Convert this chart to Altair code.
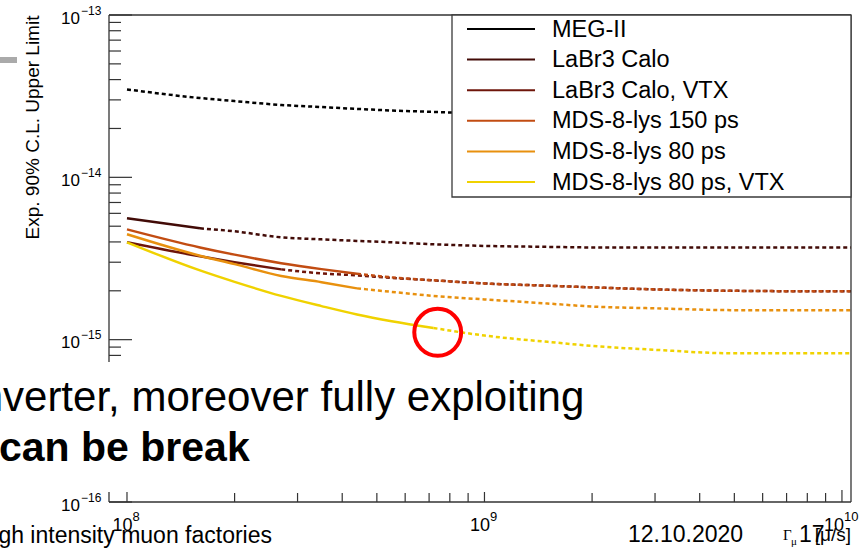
import altair as alt
import pandas as pd

SANS = "Liberation Sans"
SERIF = "Liberation Serif"
AX = "#333333"

# Muon stopping rate [mu/s] at which the sensitivities are sampled
rate = [1e8, 1.6e8, 2e8, 2.7e8, 3.5e8, 4.4e8, 5.5e8, 7.2e8,
        1e9, 1.5e9, 2e9, 3e9, 5e9, 7e9, 1.06e10]

# Expected 90% C.L. upper limits for each detector configuration
meg2 = [3.48e-14, 3.08e-14, 2.95e-14, 2.79e-14, 2.71e-14, 2.64e-14,
        2.58e-14, 2.53e-14, 2.46e-14]
labr3 = [5.59e-15, 4.85e-15, 4.65e-15, 4.27e-15, 4.15e-15, 4.06e-15,
         3.98e-15, 3.87e-15, 3.78e-15, 3.73e-15, 3.70e-15, 3.70e-15,
         3.70e-15, 3.70e-15, 3.70e-15]
labr3_vtx = [3.98e-15, 3.26e-15, 3.00e-15, 2.71e-15, 2.56e-15, 2.49e-15,
             2.40e-15, 2.32e-15, 2.22e-15, 2.15e-15, 2.10e-15, 2.04e-15,
             2.00e-15, 1.99e-15, 1.99e-15]
mds150 = [4.78e-15, 3.70e-15, 3.34e-15, 2.96e-15, 2.72e-15, 2.55e-15,
          2.42e-15, 2.32e-15, 2.22e-15, 2.15e-15, 2.10e-15, 2.04e-15,
          2.00e-15, 1.99e-15, 1.99e-15]
mds80 = [4.46e-15, 3.29e-15, 2.92e-15, 2.47e-15, 2.26e-15, 2.07e-15,
         1.97e-15, 1.86e-15, 1.77e-15, 1.67e-15, 1.60e-15, 1.56e-15,
         1.52e-15, 1.52e-15, 1.52e-15]
mds80_vtx = [3.98e-15, 2.67e-15, 2.27e-15, 1.86e-15, 1.61e-15, 1.43e-15,
             1.30e-15, 1.18e-15, 1.06e-15, 9.70e-16, 9.16e-16, 8.66e-16,
             8.24e-16, 8.24e-16, 8.24e-16]

names = ["MEG-II", "LaBr3 Calo", "LaBr3 Calo, VTX", "MDS-8-lys 150 ps",
         "MDS-8-lys 80 ps", "MDS-8-lys 80 ps, VTX"]
colors = ["#000000", "#420b07", "#6e150a", "#c24c12", "#e8900e", "#f0d200"]
series = [meg2, labr3, labr3_vtx, mds150, mds80, mds80_vtx]
# rate up to which each curve is drawn solid; dotted beyond
solid_until = [0, 1.6e8, 2.7e8, 4.4e8, 4.4e8, 7.2e8]

# highlighted point
circle_rate = [7.4e8]
circle_limit = [1.11e-15]

# axis ticks
x_major = [1e8, 1e9, 1e10]
x_exp = ["8", "9", "10"]
x_minor = [k * 10.0 ** e for e in (8, 9) for k in range(2, 10)]
y_major = [1e-13, 1e-14, 1e-15, 1e-16]
y_exp = ["\u221213", "\u221214", "\u221215", "\u221216"]
y_minor = [k * 10.0 ** e for e in (-16, -15, -14) for k in range(2, 10)]

W, H = 742, 487
LEFT, TOP = 109, 15

xs = alt.Scale(type="log", domain=[8.906e7, 1.06e10], nice=False)
ys = alt.Scale(type="log", domain=[1e-16, 1e-13], nice=False)


def X(field="x"):
    return alt.X(f"{field}:Q", scale=xs, axis=None)


def Y(field="y"):
    return alt.Y(f"{field}:Q", scale=ys, axis=None)


def px(v):
    return v - LEFT


def py(v):
    return v - TOP


one = pd.DataFrame({"k": [0]})


def label(txt, x, y, size, align="left", font=SANS, weight="normal", angle=0,
          baseline="alphabetic"):
    return alt.Chart(one).mark_text(
        align=align, baseline=baseline, fontSize=size, font=font,
        fontWeight=weight, angle=angle, color="black"
    ).encode(x=alt.value(x), y=alt.value(y), text=alt.value(txt))


def box(x1, x2, y1, y2, fill, stroke=None, sw=0):
    kw = dict(fill=fill, strokeWidth=sw)
    if stroke:
        kw["stroke"] = stroke
    return alt.Chart(one).mark_rect(**kw).encode(
        x=alt.value(x1), x2=alt.value(x2), y=alt.value(y1), y2=alt.value(y2))


layers = []

# curves: solid part then dotted continuation
for color, vals, cut in zip(colors, series, solid_until):
    pts = list(zip(rate, vals))
    solid = [p for p in pts if p[0] <= cut]
    dotted = [p for p in pts if p[0] >= cut]
    if len(solid) > 1:
        layers.append(alt.Chart(pd.DataFrame(solid, columns=["x", "y"]))
                      .mark_line(color=color, strokeWidth=2.5,
                                 interpolate="monotone")
                      .encode(x=X(), y=Y()))
    layers.append(alt.Chart(pd.DataFrame(dotted, columns=["x", "y"]))
                  .mark_line(color=color, strokeWidth=2.5, strokeDash=[4, 3],
                             interpolate="monotone")
                  .encode(x=X(), y=Y()))

# frame
for (x1, x2), (y1, y2) in [((0, W), (0, 0)), ((0, W), (H, H)),
                           ((0, 0), (0, H)), ((W, W), (0, H))]:
    layers.append(alt.Chart(one).mark_rule(color=AX, strokeWidth=1.3).encode(
        x=alt.value(x1), x2=alt.value(x2), y=alt.value(y1), y2=alt.value(y2)))

# inward ticks
for vals, length in [(x_major, 12), (x_minor, 9)]:
    layers.append(alt.Chart(pd.DataFrame({"x": vals}))
                  .mark_rule(color=AX, strokeWidth=1.2)
                  .encode(x=X(), y=alt.value(H), y2=alt.value(H - length)))
for vals, length in [(y_major, 23), (y_minor, 12)]:
    layers.append(alt.Chart(pd.DataFrame({"y": vals}))
                  .mark_rule(color=AX, strokeWidth=1.2)
                  .encode(y=Y(), x=alt.value(0), x2=alt.value(length)))

# y tick labels
ylab = pd.DataFrame({"y": y_major, "e": y_exp})
layers.append(alt.Chart(ylab).mark_text(
    align="right", baseline="alphabetic", dy=8.5, fontSize=17, font=SANS,
    color="black").encode(y=Y(), x=alt.value(px(80)), text=alt.value("10")))
layers.append(alt.Chart(ylab).mark_text(
    align="left", baseline="alphabetic", dy=-0.5, fontSize=12, font=SANS,
    color="black").encode(y=Y(), x=alt.value(px(81)), text="e:N"))

# x tick labels
for v, e in zip(x_major, x_exp):
    shift = 9 - 3.5 * len(e)
    d = pd.DataFrame({"x": [v], "e": [e]})
    layers.append(alt.Chart(d).mark_text(
        align="right", baseline="alphabetic", dx=shift, fontSize=18,
        font=SANS, color="black").encode(
        x=X(), y=alt.value(py(531)), text=alt.value("10")))
    layers.append(alt.Chart(d).mark_text(
        align="left", baseline="alphabetic", dx=shift, fontSize=13,
        font=SANS, color="black").encode(
        x=X(), y=alt.value(py(521)), text="e:N"))

# axis titles
layers.append(label("Exp. 90% C.L. Upper Limit", px(33), py(127.5), 19,
                    align="center", angle=270, baseline="middle"))

# legend
layers.append(box(px(452), W, 0, py(197), "white", "#3a3a3a", 1.3))
for i, (name, color) in enumerate(zip(names, colors)):
    yy = py(29) + i * 30.6
    layers.append(alt.Chart(one).mark_rule(color=color, strokeWidth=2).encode(
        x=alt.value(px(467)), x2=alt.value(px(535)), y=alt.value(yy)))
    layers.append(label(name, px(552), yy + 7.5, 23.5))

# slide overlay: text panel, footer and highlight
layers.append(box(-LEFT, px(620), py(362), py(492), "white"))
layers.append(box(-LEFT, px(17), py(57), py(63), "#aaaaaa"))
layers.append(label("converter, moreover fully exploiting", px(-64.7), py(411), 42))
layers.append(label("can be break", px(-1), py(461), 41, weight="bold"))
layers.append(label("high intensity muon factories", px(272), py(543), 23,
                    align="right"))
layers.append(label("12.10.2020", px(628), py(542), 23))
layers.append(label("\u0393", px(783), py(540), 15, font=SERIF))
layers.append(label("\u03bc", px(791), py(545), 11, font=SERIF))
layers.append(label("17", px(799), py(542), 23))
layers.append(label("[\u03bc/s]", px(851), py(541), 19, align="right"))

layers.append(alt.Chart(pd.DataFrame({"x": circle_rate, "y": circle_limit}))
              .mark_point(shape="circle", size=2200, filled=False,
                          stroke="#ff0000", strokeWidth=4, opacity=1)
              .encode(x=X(), y=Y()))

chart = alt.layer(*layers).properties(
    width=W, height=H,
    padding={"left": LEFT, "top": TOP, "right": 867 - LEFT - W,
             "bottom": 557 - TOP - H},
    autosize=alt.AutoSizeParams(type="none"),
    background="white",
).configure_view(strokeWidth=0)

chart.save("out.html", embed_options={"renderer": "svg", "actions": False})
